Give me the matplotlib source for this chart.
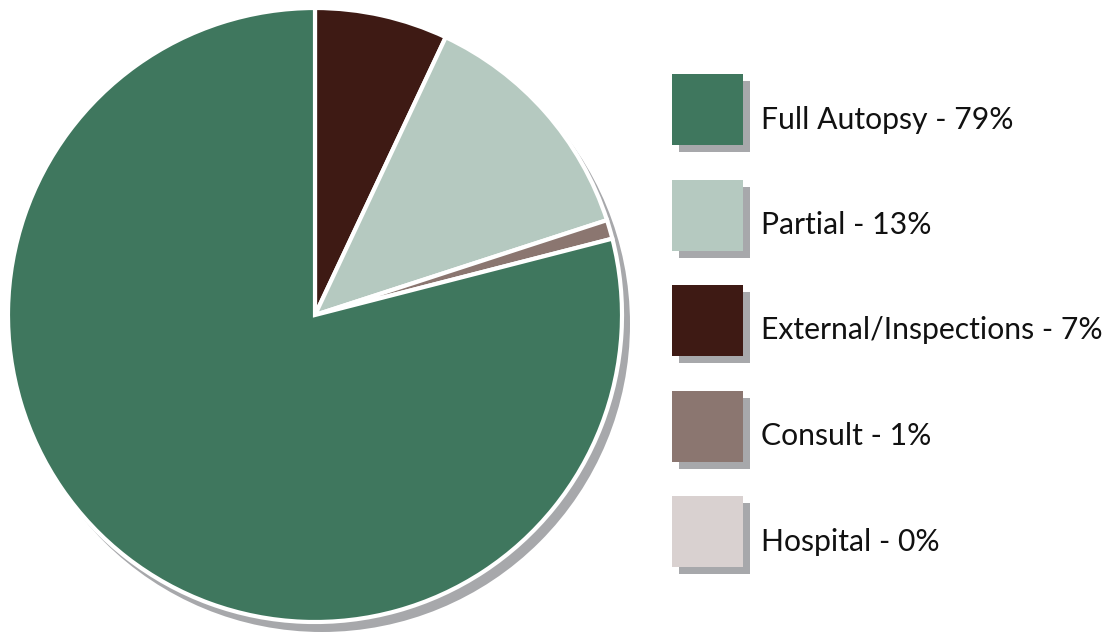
import matplotlib
matplotlib.use("Agg")
import matplotlib.pyplot as plt
from matplotlib.patches import Circle, Rectangle

# Data
categories = ["Full Autopsy", "Partial", "External/Inspections", "Consult", "Hospital"]
values = [79, 13, 7, 1, 0]
colors = ["#3f775e", "#b5c9c0", "#3e1a14", "#8b7670", "#d9d1d0"]
# drawing order clockwise from 12 o'clock
pie_order = ["External/Inspections", "Partial", "Consult", "Full Autopsy", "Hospital"]

W, H = 1111, 637
fig = plt.figure(figsize=(W / 100, H / 100), dpi=100)
ax = fig.add_axes([0, 0, 1, 1])
ax.set_xlim(0, W)
ax.set_ylim(0, H)
ax.set_aspect("equal")
ax.axis("off")

cx, cy, r = 315, H - 315, 307
shadow = "#a7a8ab"

# pie shadow
ax.add_patch(Circle((cx + 7, cy - 9), r + 1, facecolor=shadow, edgecolor="none", zorder=1))

idx = [categories.index(c) for c in pie_order if values[categories.index(c)] > 0]
ax.pie([values[i] for i in idx], colors=[colors[i] for i in idx],
       startangle=90, counterclock=False, center=(cx, cy), radius=r,
       wedgeprops=dict(edgecolor="white", linewidth=3, zorder=2),
       frame=True)
ax.set_xlim(0, W)
ax.set_ylim(0, H)
ax.axis("off")

# legend
box_x, box_w = 672, 71
top0, step = 74, 105.5
for k, (cat, val, col) in enumerate(zip(categories, values, colors)):
    top = top0 + k * step
    y0 = H - top - box_w
    ax.add_patch(Rectangle((box_x + 7, y0 - 7), box_w, box_w, facecolor=shadow,
                           edgecolor="none", zorder=3))
    ax.add_patch(Rectangle((box_x, y0), box_w, box_w, facecolor=col,
                           edgecolor="none", zorder=4))
    ax.text(box_x + box_w + 18, H - (top + 54.5), f"{cat} - {val}%",
            fontsize=21.7, family="Lato", color="#111111",
            va="baseline", ha="left", zorder=5)

fig.savefig("out.png", dpi=100)
